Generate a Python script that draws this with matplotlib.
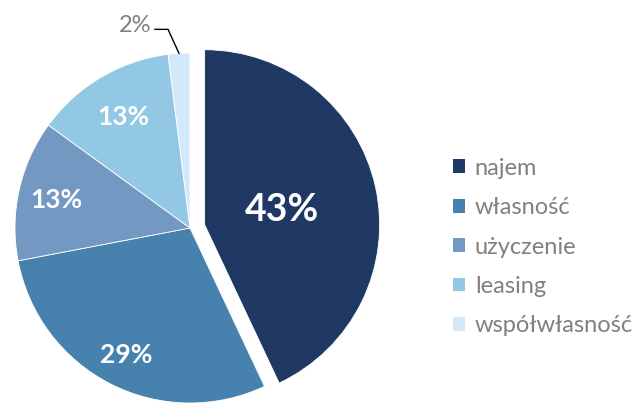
import numpy as np
import matplotlib
matplotlib.use("Agg")
import matplotlib.pyplot as plt
from matplotlib.patches import Patch

plt.rcParams['font.family'] = ['Lato', 'DejaVu Sans']

categories = ['najem', 'własność', 'użyczenie', 'leasing', 'współwłasność']
values = [43, 29, 13, 13, 2]
labels = ['43%', '29%', '13%', '13%', '2%']
colors = ['#1F3864', '#4682AD', '#7399C2', '#92C8E4', '#D3E8FA']

fig = plt.figure(figsize=(6.37, 4.03), dpi=100)
ax = fig.add_axes([0, 0, 1, 1])

cx, cy, R = 190, 175, 175
explode = [15, 0, 0, 0, 0]
wedges, _ = ax.pie(values, colors=colors, startangle=90, counterclock=False,
                   explode=explode, center=(cx, cy), radius=R,
                   wedgeprops=dict(edgecolor='white', linewidth=0.6), frame=True)
ax.set_xlim(0, 637)
ax.set_ylim(0, 403)
ax.set_aspect('auto')
ax.axis('off')

dists = [0.45, 0.8, 0.78, 0.75]
sizes = [27, 19, 19, 19]
for i, w in enumerate(wedges[:4]):
    mid = np.deg2rad((w.theta1 + w.theta2) / 2)
    wx, wy = w.center
    d = dists[i] * R
    ax.text(wx + d * np.cos(mid), wy + d * np.sin(mid) - 2, labels[i],
            ha='center', va='center', color='white', fontsize=sizes[i],
            fontweight='bold')

# small slice label with leader line
w = wedges[4]
mid = np.deg2rad((w.theta1 + w.theta2) / 2)
px, py = cx + R * np.cos(mid), cy + R * np.sin(mid)
ex, ey = px - 11, py + 24
ax.plot([px, ex, ex - 13], [py, ey, ey], color='black', lw=1.0)
ax.text(ex - 17, ey + 4, labels[4], ha='right', va='center', color='#808080', fontsize=17)

handles = [Patch(facecolor=c, edgecolor='none') for c in colors]
leg = fig.legend(handles, categories, loc='center left', bbox_to_anchor=(0.678, 0.387),
                 frameon=False, fontsize=17, handlelength=0.52, handleheight=0.52,
                 handletextpad=0.4, labelspacing=0.78, labelcolor='#808080')

fig.savefig('out.png', dpi=100)
